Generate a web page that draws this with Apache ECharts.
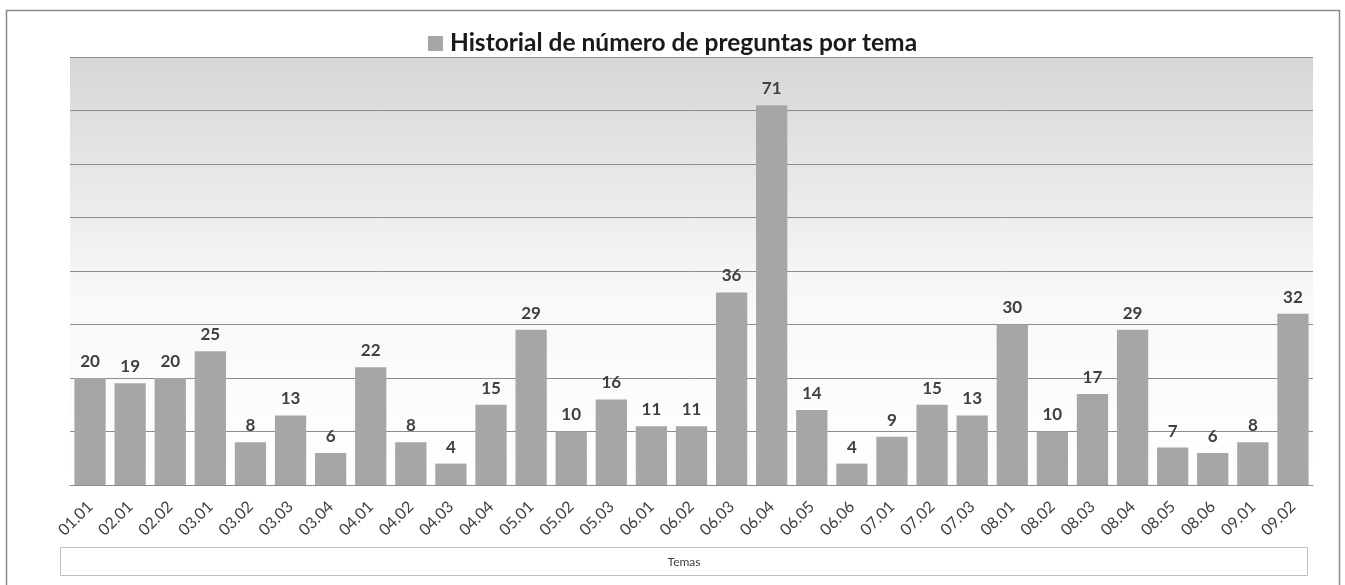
<!DOCTYPE html>
<html>
<head>
<meta charset="utf-8">
<script src="https://cdn.jsdelivr.net/npm/echarts@6/dist/echarts.min.js"></script>
<style>
html,body{margin:0;padding:0;background:#fff;}
#chart{width:1345px;height:585px;}
</style>
</head>
<body>
<div id="chart"></div>
<script>
const titleText = 'Historial de número de preguntas por tema';
const axisTitle = 'Temas';
const categories = ['01.01','02.01','02.02','03.01','03.02','03.03','03.04','04.01','04.02','04.03','04.04','05.01','05.02','05.03','06.01','06.02','06.03','06.04','06.05','06.06','07.01','07.02','07.03','08.01','08.02','08.03','08.04','08.05','08.06','09.01','09.02'];
const values = [20,19,20,25,8,13,6,22,8,4,15,29,10,16,11,11,36,71,14,4,9,15,13,30,10,17,29,7,6,8,32];

const chart = echarts.init(document.getElementById('chart'), null, {renderer:'canvas'});
const FONT = 'Lato, "Open Sans", sans-serif';
chart.setOption({
  animation: false,
  backgroundColor: '#ffffff',
  legend: {
    show: true,
    top: 26,
    left: 'center',
    itemWidth: 15,
    itemHeight: 15,
    icon: 'rect',
    data: [titleText],
    textStyle: {fontFamily: FONT, fontSize: 24.5, fontWeight: 'bold', color: '#1a1a1a', padding: [0,0,0,2]}
  },
  grid: {
    left: 70, right: 32, top: 57, bottom: 100,
    show: true,
    borderWidth: 0,
    backgroundColor: new echarts.graphic.LinearGradient(0,0,0,1,[
      {offset:0,color:'#d6d6d6'},
      {offset:0.55,color:'#f8f8f8'},
      {offset:1,color:'#ffffff'}
    ])
  },
  xAxis: {
    type: 'category',
    data: categories,
    axisTick: {show:false},
    axisLine: {show:true, lineStyle:{color:'#8c8c8c', width:1}},
    axisLabel: {rotate: 45, margin: 19, fontFamily: FONT, fontSize: 16, color:'#404040', interval: 0}
  },
  yAxis: {
    type: 'value',
    min: 0, max: 80, interval: 10,
    axisLabel: {show:false},
    axisLine: {show:false},
    axisTick: {show:false},
    splitLine: {show:true, lineStyle:{color:'#8c8c8c', width:1}}
  },
  series: [{
    name: titleText,
    type: 'bar',
    data: values,
    barWidth: '78%',
    itemStyle: {color:'#a6a6a6'},
    label: {show:true, position:'top', distance: 8, fontFamily: FONT, fontSize: 17, fontWeight:'bold', color:'#404040'}
  }],
  graphic: [
    {type:'rect', shape:{x:6.5, y:10.5, width:1333, height:600}, style:{fill:'none', stroke:'#8a8a8a', lineWidth:1.5}, silent:true},
    {type:'rect', shape:{x:60.5, y:547.5, width:1247, height:28}, style:{fill:'#ffffff', stroke:'#bfbfbf', lineWidth:1}, silent:true},
    {type:'text', x:684, y:562, style:{text: axisTitle, font:'12px ' + FONT, fill:'#404040', textAlign:'center', textVerticalAlign:'middle'}, silent:true}
  ]
});
</script>
</body>
</html>
